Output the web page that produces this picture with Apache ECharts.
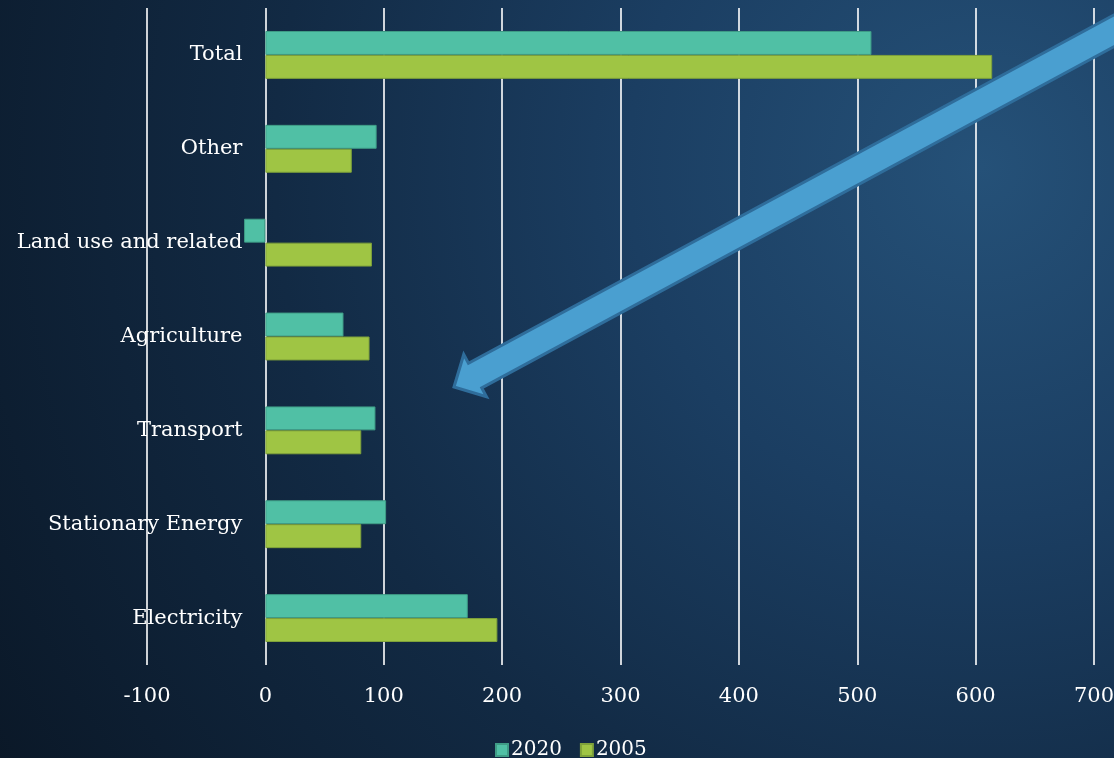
<!DOCTYPE html>
<html>
<head>
<meta charset="utf-8">
<script src="https://cdn.jsdelivr.net/npm/echarts@6/dist/echarts.min.js"></script>
<style>
html,body{margin:0;padding:0;width:1114px;height:758px;overflow:hidden;background:#0d1e30;}
#chart{width:1114px;height:758px;}
</style>
</head>
<body>
<div id="chart"></div>
<script>
// Data
const categories = ['Electricity', 'Stationary Energy', 'Transport', 'Agriculture', 'Land use and related', 'Other', 'Total'];
const seriesNames = ['2020', '2005'];
const values2020 = [171, 102, 93, 66, -18, 94, 512];
const values2005 = [196, 81, 81, 88, 90, 73, 614];
const xMin = -100, xMax = 700, xInterval = 100;

const FONT = 'DejaVu Serif';
const chart = echarts.init(document.getElementById('chart'), null, {renderer: 'canvas'});

// decorative arrow (annotation graphic, not data)
function buildArrow() {
  const tip = [454, 387];
  const u = [0.88, -0.475];   // back along shaft
  const n = [0.475, 0.88];    // perpendicular
  const headLen = 24, headHalf = 24, shaftHalf = 14, far = 780;
  const c1 = [tip[0] + headLen * u[0], tip[1] + headLen * u[1]];
  const c2 = [tip[0] + far * u[0], tip[1] + far * u[1]];
  const p = (c, k) => [c[0] + k * n[0], c[1] + k * n[1]];
  return [tip, p(c1, -headHalf), p(c1, -shaftHalf), p(c2, -shaftHalf), p(c2, shaftHalf), p(c1, shaftHalf), p(c1, headHalf)];
}

// shift category axis onto x = 0 (grid left sits at x = -100)
const gridLeft = 147, gridRight = 20, chartW = 1114;
const zeroOffset = -(0 - xMin) / (xMax - xMin) * (chartW - gridLeft - gridRight);

chart.setOption({
  backgroundColor: {
    type: 'radial', x: 0.88, y: 0.22, r: 1.55,
    colorStops: [
      {offset: 0, color: '#255178'},
      {offset: 0.3, color: '#1b3e62'},
      {offset: 0.6, color: '#122a44'},
      {offset: 1, color: '#0a1726'}
    ]
  },
  animation: false,
  grid: {left: gridLeft, right: gridRight, top: 8, bottom: 93, containLabel: false, outerBoundsMode: 'none'},
  legend: {
    data: seriesNames,
    left: 490, top: 735,
    itemWidth: 12, itemHeight: 12, itemGap: 18,
    icon: 'rect',
    textStyle: {color: '#ffffff', fontFamily: FONT, fontSize: 20, padding: [0, 0, 0, -2]}
  },
  xAxis: {
    type: 'value', min: xMin, max: xMax, interval: xInterval,
    axisLine: {show: false}, axisTick: {show: false},
    splitLine: {show: true, lineStyle: {color: '#ffffff', width: 1.6}},
    axisLabel: {color: '#ffffff', fontFamily: FONT, fontSize: 21, margin: 21}
  },
  yAxis: {
    type: 'category', data: categories,
    position: 'left', offset: zeroOffset,
    axisLine: {show: false, onZero: false},
    axisTick: {show: false},
    axisLabel: {color: '#ffffff', fontFamily: FONT, fontSize: 21, margin: 23}
  },
  series: [
    {
      name: seriesNames[0], type: 'bar', data: values2020,
      barGap: '0%', barCategoryGap: '49%',
      itemStyle: {color: '#50c0a5', borderColor: '#3f9c86', borderWidth: 1}
    },
    {
      name: seriesNames[1], type: 'bar', data: values2005,
      barGap: '0%', barCategoryGap: '49%',
      itemStyle: {color: '#9fc544', borderColor: '#7fa23a', borderWidth: 1}
    }
  ],
  graphic: [{
    type: 'polygon', z: 100,
    shape: {points: buildArrow()},
    style: {fill: '#4a9fd0', stroke: '#2f6d9b', lineWidth: 3, lineJoin: 'miter'}
  }]
});
</script>
</body>
</html>
